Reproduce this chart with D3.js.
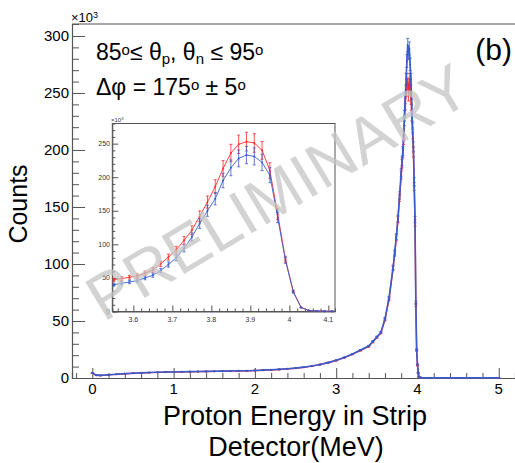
<!DOCTYPE html>
<html lang="en">
  <head>
    <meta charset="utf-8">
    <script src="https://cdn.jsdelivr.net/npm/d3@7"></script>
    <style>
      body { margin: 0; background: #fff; }
      text { font-family: "Liberation Sans", Arial, sans-serif; }
    </style>
  </head>
  <body>
    <svg class="chart"></svg>
  </body>
  <script>
    // main histogram (counts in units of 10^3)
    var mainEnergy = [0,0.05,0.1,0.2,0.3,0.4,0.5,0.6,0.7,0.8,0.9,1.0,1.1,1.2,1.3,1.4,1.5,1.6,1.7,1.8,1.9,2.0,2.1,2.2,2.3,2.4,2.5,2.6,2.7,2.8,2.9,3.0,3.1,3.2,3.3,3.4,
      3.45,3.5,3.55,3.6,3.65,3.7,3.72,3.74,3.76,3.78,3.8,3.81,3.82,3.83,3.84,3.85,3.86,3.87,3.88,3.89,3.9,3.91,3.92,3.93,3.94,3.95,3.96,3.97,3.98,3.99,4.0,4.01,4.02,4.05,4.1,4.5,5.0];
    var mainBlue = [4.5,2.5,2.3,2.8,3.3,3.8,4.2,4.5,4.8,5.0,5.2,5.3,5.5,5.6,5.7,5.8,5.9,6.0,6.1,6.3,6.4,6.6,6.9,7.2,7.6,8.1,8.7,9.5,10.5,11.8,13.5,15.5,18,21,24.5,28,
      32,36,40,52,70,97,110,124,140,160,180,190,199,212,230,246,262,278,292,285,289,275,262,240,220,203,172,139,66,25,12,4.6,1,0.2,0.1,0.1,0.1];
    var mainRed = [4.2,2.4,2.2,2.7,3.2,3.7,4.1,4.4,4.7,4.9,5.1,5.2,5.4,5.5,5.6,5.7,5.8,5.9,6.0,6.2,6.3,6.5,6.8,7.1,7.5,8.0,8.6,9.4,10.4,11.7,13.4,15.3,17.8,20.8,24.2,27.6,
      31.5,35.5,39.5,51,69,96,109,123,139,158,178,188,197,209,226,240,252,262,258,248,262,255,245,230,214,198,168,136,64,24,11,4.4,1,0.2,0.1,0.1,0.1];

    // inset (zoom on the peak)
    var insetEnergy = [3.55,3.57,3.59,3.61,3.63,3.65,3.67,3.69,3.71,3.73,3.75,3.77,3.79,3.81,3.83,3.85,3.87,3.89,3.91,3.93,3.95,3.97,3.99,4.01,4.03,4.05,4.07,4.09,4.11];
    var insetRed = [47,49,51,53,57,62,71,81,92,106,121,142,163,186,213,236,249,253,251,240,210,145,78,30,6,1.5,0.8,0.5,0.4];
    var insetBlue = [40,42,44,46,50,54,61,70,80,94,111,131,150,168,195,214,228,233,231,222,203,140,76,29,6,1.5,0.8,0.5,0.4];

    var mainXTicks = [0,1,2,3,4,5];
    var mainYTicks = [0,50,100,150,200,250,300];
    var insetXTicks = [3.6,3.7,3.8,3.9,4,4.1];
    var insetYTicks = [0,50,100,150,200,250];

    var W = 515, H = 463;
    var red = '#ff2a2a', blue = '#3a5ccc', axisColor = '#555';

    var svg = d3.select('.chart').attr('width', W).attr('height', H);

    var xScale = d3.scaleLinear().domain([-0.25, 5.2]).range([72, 515]);
    var yScale = d3.scaleLinear().domain([0, 310.5]).range([378, 24]);

    var drawSeries = function(g, xs, ys, energy, values, color, errFrac, cap, width) {
      var pts = energy.map(function(e, i){ return {x: e, y: values[i]} });
      var line = d3.line().x(function(d){return xs(d.x)}).y(function(d){return ys(d.y)});
      var s = g.append('g').attr('stroke', color).attr('fill', 'none');
      s.append('path').attr('d', line(pts)).attr('stroke-width', width);
      var bars = s.selectAll('g.err').data(pts).enter().append('g').classed('err', true)
                  .attr('stroke-width', 0.8);
      bars.append('line')
          .attr('x1', function(d){return xs(d.x)}).attr('x2', function(d){return xs(d.x)})
          .attr('y1', function(d){return ys(d.y*(1+errFrac))})
          .attr('y2', function(d){return ys(d.y*(1-errFrac))});
      bars.append('line')
          .attr('x1', function(d){return xs(d.x)-cap}).attr('x2', function(d){return xs(d.x)+cap})
          .attr('y1', function(d){return ys(d.y*(1+errFrac))})
          .attr('y2', function(d){return ys(d.y*(1+errFrac))});
      bars.append('line')
          .attr('x1', function(d){return xs(d.x)-cap}).attr('x2', function(d){return xs(d.x)+cap})
          .attr('y1', function(d){return ys(d.y*(1-errFrac))})
          .attr('y2', function(d){return ys(d.y*(1-errFrac))});
      s.selectAll('circle').data(pts).enter().append('circle')
       .attr('cx', function(d){return xs(d.x)}).attr('cy', function(d){return ys(d.y)})
       .attr('r', 1).attr('fill', color).attr('stroke', 'none');
    };

    // ---- main frame and axes
    var frame = svg.append('g').attr('stroke', axisColor).attr('stroke-width', 1.2);
    frame.append('line').attr('x1', 72).attr('x2', 515).attr('y1', 24).attr('y2', 24);

    var yAxis = d3.axisRight(yScale).tickValues(d3.range(0, 310, 10)).tickSize(7).tickFormat('');
    svg.append('g').attr('transform', 'translate(72,0)').call(yAxis)
       .call(function(g){
         g.select('.domain').attr('stroke', axisColor).attr('stroke-width', 1.2);
         g.selectAll('.tick line').attr('stroke', axisColor)
          .attr('x2', function(d){ return mainYTicks.indexOf(d) >= 0 ? 13 : 7 });
       });
    svg.append('g').selectAll('text').data(mainYTicks).enter().append('text')
       .attr('x', 69).attr('y', function(d){return yScale(d)}).attr('dy', '0.36em')
       .attr('text-anchor', 'end').attr('font-size', 15).text(function(d){return d});

    var xAxis = d3.axisTop(xScale).tickValues(d3.range(-0.2, 5.21, 0.2)).tickSize(5).tickFormat('');
    svg.append('g').attr('transform', 'translate(0,378)').call(xAxis)
       .call(function(g){
         g.select('.domain').attr('stroke', axisColor).attr('stroke-width', 1.2);
         g.selectAll('.tick line').attr('stroke', axisColor)
          .attr('y2', function(d){ return Math.abs(d - Math.round(d)) < 1e-6 ? -10 : -5 });
       });
    svg.append('g').selectAll('text').data(mainXTicks).enter().append('text')
       .attr('x', function(d){return xScale(d)}).attr('y', 394)
       .attr('text-anchor', 'middle').attr('font-size', 15).text(function(d){return d});

    svg.append('text').attr('x', 71).attr('y', 22).attr('font-size', 13)
       .html('×10<tspan baseline-shift="40%" font-size="9">3</tspan>');

    // ---- main data
    var plot = svg.append('g');
    drawSeries(plot, xScale, yScale, mainEnergy, mainRed, red, 0.02, 1.5, 1.4);
    drawSeries(plot, xScale, yScale, mainEnergy, mainBlue, blue, 0.02, 1.5, 1.6);

    // ---- inset
    var ix = d3.scaleLinear().domain([3.546, 4.117]).range([112.3, 335]);
    var iy = d3.scaleLinear().domain([0, 280]).range([311.5, 123.5]);
    var inset = svg.append('g');
    inset.append('rect').attr('x', 112.3).attr('y', 123.5).attr('width', 335 - 112.3).attr('height', 311.5 - 123.5)
         .attr('fill', '#fff').attr('stroke', axisColor).attr('stroke-width', 1);

    var iyAxis = d3.axisRight(iy).tickValues(d3.range(0, 280, 10)).tickSize(3).tickFormat('');
    inset.append('g').attr('transform', 'translate(112.3,0)').call(iyAxis)
       .call(function(g){
         g.select('.domain').attr('stroke', axisColor);
         g.selectAll('.tick line').attr('stroke', axisColor)
          .attr('x2', function(d){ return insetYTicks.indexOf(d) >= 0 ? 6 : 3 });
       });
    inset.append('g').selectAll('text').data(insetYTicks).enter().append('text')
       .attr('x', 110).attr('y', function(d){return iy(d)}).attr('dy', '0.36em')
       .attr('text-anchor', 'end').attr('font-size', 7).attr('fill', '#333').text(function(d){return d});

    var ixAxis = d3.axisTop(ix).tickValues(d3.range(3.56, 4.117, 0.02)).tickSize(3).tickFormat('');
    inset.append('g').attr('transform', 'translate(0,311.5)').call(ixAxis)
       .call(function(g){
         g.select('.domain').attr('stroke', axisColor);
         g.selectAll('.tick line').attr('stroke', axisColor)
          .attr('y2', function(d){ return Math.abs(d*10 - Math.round(d*10)) < 1e-6 ? -6 : -3 });
       });
    inset.append('g').selectAll('text').data(insetXTicks).enter().append('text')
       .attr('x', function(d){return ix(d)}).attr('y', 322)
       .attr('text-anchor', 'middle').attr('font-size', 7).attr('fill', '#333').text(function(d){return d});

    inset.append('text').attr('x', 111).attr('y', 122).attr('font-size', 6).attr('fill', '#333')
         .html('×10<tspan baseline-shift="40%" font-size="4">3</tspan>');

    drawSeries(inset, ix, iy, insetEnergy, insetRed, red, 0.055, 1.5, 0.9);
    drawSeries(inset, ix, iy, insetEnergy, insetBlue, blue, 0.055, 1.5, 0.9);

    // ---- labels
    svg.append('text').attr('transform', 'translate(27,204) rotate(-90)')
       .attr('text-anchor', 'middle').attr('font-size', 25).text('Counts');
    svg.append('text').attr('x', 295).attr('y', 425).attr('text-anchor', 'middle')
       .attr('font-size', 27).text('Proton Energy in Strip');
    svg.append('text').attr('x', 296).attr('y', 456).attr('text-anchor', 'middle')
       .attr('font-size', 27).text('Detector(MeV)');

    var sup = function(t){ return '<tspan baseline-shift="35%" font-size="15">' + t + '</tspan>' };
    var sub = function(t){ return '<tspan baseline-shift="-28%" font-size="15">' + t + '</tspan>' };
    svg.append('text').attr('x', 96).attr('y', 60).attr('font-size', 23)
       .html('85' + sup('o') + '≤ θ' + sub('p') + ', θ' + sub('n') + '&#160;≤ 95' + sup('o'));
    svg.append('text').attr('x', 96).attr('y', 95).attr('font-size', 23)
       .html('Δφ = 175' + sup('o') + ' ± 5' + sup('o'));
    svg.append('text').attr('x', 512).attr('y', 60).attr('text-anchor', 'end')
       .attr('font-size', 30).text('(b)');

    // ---- watermark
    svg.append('text').attr('transform', 'translate(289,211) rotate(-31)')
       .attr('text-anchor', 'middle').attr('font-size', 64)
       .attr('fill', '#c4c4c4').attr('fill-opacity', 0.75).text('PRELIMINARY');
  </script>
</html>
